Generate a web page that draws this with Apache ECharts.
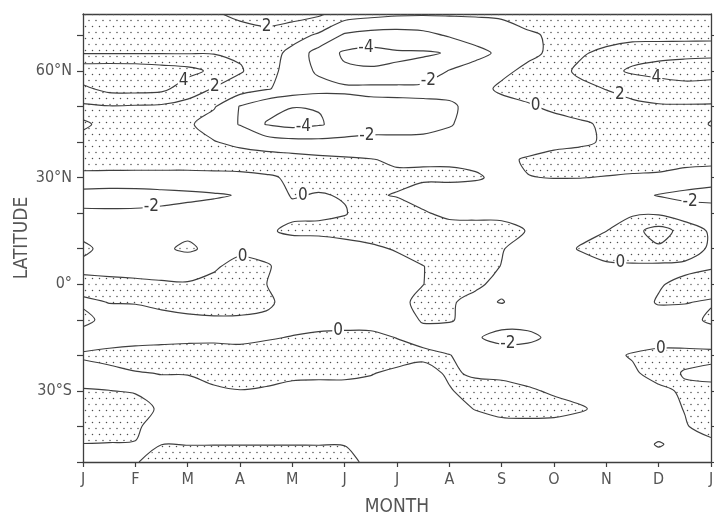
<!DOCTYPE html>
<html>
<head>
<meta charset="utf-8">
<script src="https://cdn.jsdelivr.net/npm/echarts@6/dist/echarts.min.js"></script>
<style>
  html, body { margin: 0; padding: 0; background: #fff; }
  #chart { width: 714px; height: 518px; }
</style>
</head>
<body>
<div id="chart"></div>
<script>
// ---- grid of the field: columns are half-month steps, rows are latitudes ----
const monthSteps = [0, 0.5, 1, 1.5, 2, 2.5, 3, 3.5, 4, 4.5, 5, 5.5, 6,
                    6.5, 7, 7.5, 8, 8.5, 9, 9.5, 10, 10.5, 11, 11.5, 12];
const monthTicks = ['J', 'F', 'M', 'A', 'M', 'J', 'J', 'A', 'S', 'O', 'N', 'D', 'J'];
const latitudes = [-50, -45, -40, -35, -30, -25, -20, -15, -10, -5, 0, 5, 10,
                   15, 20, 25, 30, 35, 40, 45, 50, 55, 60, 65, 70, 76];
const latTicks = [-50, -40, -30, -20, -10, 0, 10, 20, 30, 40, 50, 60, 70];
const latLabelValues = [60, 30, 0, -30];
const latLabelText = { '60': '60°N', '30': '30°N', '0': '0°', '-30': '30°S' };
const contourLevels = [-4, -2, 0, 2, 4];

// anomaly along each latitude, one value per month step
const n76 = [1.0, 1.0, 1.1, 1.2, 1.4, 1.9, 2.2, 2.7, 2.7, 2.3, 1.0, 0.6, 0.3, 0.2, 0.2, 0.2, 0.3, 0.9, 1.5, 1.4, 1.5, 1.5, 1.4, 1.3, 1.1];
const n70 = [1.3, 1.3, 1.3, 1.4, 1.5, 1.6, 1.6, 1.5, 0.8, -0.3, -2.3, -2.8, -2.9, -2.6, -1.8, -1.2, -0.9, -0.3, 0.3, 1.0, 1.3, 1.3, 1.2, 1.2, 1.2];
const n65 = [1.9, 1.9, 1.9, 1.9, 1.9, 1.9, 1.7, 1.0, -0.6, -2.8, -4.3, -4.6, -4.2, -4.2, -3.9, -2.6, -1.6, -0.6, 0.5, 1.8, 2.4, 3.2, 3.5, 3.6, 3.7];
const n60 = [5.4, 5.5, 5.4, 5.0, 4.6, 3.6, 2.2, 0.8, -0.9, -2.3, -3.7, -3.8, -3.8, -3.3, -1.9, -1.2, -0.6, 0.6, 1.4, 2.3, 3.4, 4.3, 4.6, 4.8, 4.8];
const n55 = [3.6, 4.6, 4.7, 4.5, 3.0, 1.9, 1.0, 0.2, -0.8, -1.3, -1.5, -1.5, -1.5, -1.5, -1.6, -1.0, 0.5, 0.7, 1.1, 1.6, 2.05, 2.6, 3.1, 3.4, 3.2];
const n50 = [1.7, 1.9, 1.8, 1.7, 1.3, 0.2, -2.1, -3.5, -3.95, -3.9, -3.2, -2.6, -2.5, -2.4, -2.2, -1.6, -1.0, -0.2, 0.4, 0.9, 1.3, 1.6, 1.8, 1.8, 1.8];
const n45 = [2.1, 1.8, 1.5, 1.1, 0.3, -0.9, -2.1, -4.1, -4.6, -4.2, -3.3, -2.6, -2.6, -2.5, -2.1, -1.5, -1.2, -1.0, -0.7, -0.3, 0.3, 0.9, 1.3, 1.6, 2.05];
const n40 = [1.8, 1.6, 1.4, 1.1, 0.7, 0.1, -0.5, -1.0, -1.4, -1.5, -1.5, -1.6, -1.6, -1.6, -1.5, -1.3, -1.1, -0.9, -0.5, -0.3, 0.2, 0.8, 1.2, 1.4, 1.6];
const n35 = [0.8, 0.9, 1.0, 1.0, 1.0, 1.0, 1.0, 0.9, 0.8, 0.5, 0.3, 0.1, -0.3, -0.2, -0.2, -0.3, -0.4, 0.2, 0.6, 0.8, 1.0, 1.0, 0.9, 0.8, 0.7];
const n30 = [-0.5, -0.6, -0.7, -0.7, -0.7, -0.6, -0.5, -0.2, 0.2, 0.5, 0.5, 0.4, 0.4, 0.3, 0.3, 0.15, -0.3, -0.05, 0.05, 0.05, -0.1, -0.3, -0.4, -1.0, -1.3];
const n25 = [-2.8, -2.9, -2.8, -2.6, -2.4, -2.2, -1.9, -0.8, 0.1, -0.1, 0.1, 0.2, -0.1, -0.8, -0.8, -0.7, -0.6, -0.9, -1.1, -1.2, -1.3, -1.5, -2.1, -2.4, -2.6];
const n20 = [-1.7, -1.7, -1.7, -1.6, -1.4, -1.2, -0.9, -0.6, -0.4, -0.3, -0.1, 0.8, 0.8, 0.2, -0.5, -0.6, -0.6, -0.6, -0.8, -0.7, -0.5, -0.3, -0.3, -1.2, -1.2];
const n15 = [-0.7, -1.1, -1.1, -1.0, -0.4, -0.8, -0.7, -0.3, 0.4, 0.4, 0.6, 1.0, 1.2, 1.1, 0.9, 0.9, 0.8, -0.1, -0.6, -0.4, -0.02, 1.4, 2.8, 1.3, -0.3];
const n10 = [0.5, -0.8, -0.8, -0.3, 0.3, -0.5, -0.6, -0.7, -1.2, -1.0, -0.7, -0.4, 0.2, 0.9, 1.0, 0.8, 0.1, -0.7, -0.6, 0.1, 0.8, 1.3, 1.7, 0.7, -0.2];
const n05 = [-0.6, -0.8, -1.0, -1.1, -1.2, -0.3, 0.8, 0.2, -0.8, -1.2, -1.3, -1.2, -0.8, -0.05, 0.9, 0.7, -0.05, -0.8, -1.0, -0.6, -0.3, -0.3, -0.4, -0.3, -0.1];
const eq00 = [0.7, 0.6, 0.5, 0.3, 0.2, 0.6, 0.6, 0.02, -0.7, -1.0, -1.1, -1.0, -0.6, -0.02, 0.6, 0.3, -0.5, -0.9, -1.0, -0.9, -0.7, -0.4, -0.1, 0.3, 0.5];
const s05 = [-0.3, 0.05, 0.1, 0.4, 0.6, 0.7, 0.6, 0.3, -0.6, -1.1, -1.2, -1.0, -0.4, 0.4, 0.2, -0.5, 0.1, -0.8, -1.0, -1.0, -0.8, -0.5, 0.1, 0.05, -0.1];
const s10 = [0.5, -0.6, -0.7, -0.5, -0.3, -0.2, -0.2, -0.3, -0.8, -1.0, -0.9, -0.8, -0.5, 0.1, 0.15, -0.6, -1.2, -1.2, -1.0, -0.9, -0.8, -0.7, -0.5, -0.4, 0.2];
const s15 = [-0.8, -0.9, -0.7, -0.6, -0.5, -0.4, -0.5, -0.2, 0.1, 0.5, 0.6, 0.5, -0.05, -0.4, -0.9, -1.8, -2.6, -2.5, -1.5, -1.0, -0.8, -0.6, -0.6, -0.6, -0.6];
const s20 = [0.2, 0.6, 0.8, 0.9, 1.0, 0.9, 0.8, 1.0, 1.2, 1.4, 1.4, 1.2, 0.8, 0.3, 0.05, -0.6, -1.0, -0.9, -0.8, -0.6, -0.3, 0.1, 0.4, 0.4, 0.3];
const s25 = [-0.6, -0.5, -0.1, 0.05, 0.05, 0.4, 0.7, 0.6, 0.3, 0.3, 0.3, 0.1, -0.4, -0.5, 0.2, -0.2, -0.4, -0.6, -0.7, -0.7, -0.6, -0.2, 0.5, -0.1, -0.3];
const s30 = [0.1, 0.02, -0.1, -0.5, -0.4, -0.2, -0.05, -0.2, -0.4, -0.5, -0.5, -0.6, -0.7, -0.5, -0.1, 0.5, 0.6, 0.2, -0.2, -0.5, -0.6, -0.5, -0.3, 0.2, 0.3];
const s35 = [1.0, 0.9, 0.5, -0.2, -0.5, -0.6, -0.7, -0.7, -0.7, -0.7, -0.7, -0.7, -0.7, -0.6, -0.4, 0.05, 0.5, 0.6, 0.5, 0.15, -0.4, -0.6, -0.5, 0.05, 0.5];
const s40 = [1.2, 0.5, 0.2, -0.6, -0.6, -0.6, -0.6, -0.6, -0.6, -0.6, -0.6, -0.7, -0.8, -0.8, -0.8, -0.5, -0.5, -0.5, -0.5, -0.6, -0.7, -0.7, -0.6, -0.1, 0.5];
const s45 = [-0.05, -0.05, -0.05, -0.02, -0.05, -0.05, -0.05, -0.05, -0.05, -0.05, -0.05, -0.5, -0.6, -0.6, -0.6, -0.6, -0.6, -0.6, -0.6, -0.6, -0.6, -0.5, 0.1, -0.4, -0.3];
const s50 = [-0.6, -0.5, -0.1, 0.6, 0.8, 0.9, 0.9, 0.9, 0.9, 0.8, 0.5, -0.4, -0.5, -0.5, -0.5, -0.5, -0.5, -0.5, -0.5, -0.5, -0.5, -0.5, -0.5, -0.5, -0.5];

// rows in the same order as `latitudes`
const field = [s50, s45, s40, s35, s30, s25, s20, s15, s10, s05, eq00,
               n05, n10, n15, n20, n25, n30, n35, n40, n45, n50, n55, n60, n65, n70, n76];

// where each contour carries its value: [level, month, latitude]; snapped onto the contour
const contourNotes = [
  [2, 3.53, 70.9], [4, 1.85, 59.1], [2, 2.55, 54.6],
  [-4, 5.42, 65.0], [-2, 6.59, 57.4], [-4, 4.2, 46.2], [-2, 5.42, 42.5],
  [0, 8.63, 49.5], [2, 10.27, 53.8], [4, 10.96, 58.3],
  [0, 4.2, 24.8], [-2, 1.31, 20.8], [-2, 11.6, 23.0],
  [0, 3.06, 8.2], [0, 10.27, 6.5],
  [0, 4.87, -11.5], [-2, 8.12, -17.7], [0, 11.04, -18.0]
];

// ---- styling ----
const ink = '#3f3f3f';
const textInk = '#555';
const narrow = '"Liberation Sans Narrow", "DejaVu Sans Condensed", "Arial Narrow", sans-serif';

function makeStipple() {
  const c = document.createElement('canvas');
  c.width = 7; c.height = 12;
  const ctx = c.getContext('2d');
  ctx.fillStyle = '#4d4d4d';
  [[1.5, 2.5], [5, 8.5]].forEach(([x, y]) => {
    ctx.beginPath(); ctx.arc(x, y, 0.72, 0, Math.PI * 2); ctx.fill();
  });
  return c;
}
const stipple = { image: makeStipple(), repeat: 'repeat' };

// ---- marching squares over the grid ----
function renderField(params, api) {
  const nx = monthSteps.length, ny = latitudes.length;
  const P = [];
  for (let j = 0; j < ny; j++) {
    P.push(monthSteps.map(m => api.coord([m, latitudes[j]])));
  }
  const cornerIJ = (i, j) => [[i, j], [i + 1, j], [i + 1, j + 1], [i, j + 1]];
  const edgeKey = (i, j, k) =>
    k === 0 ? 'h' + i + '_' + j :
    k === 1 ? 'v' + (i + 1) + '_' + j :
    k === 2 ? 'h' + i + '_' + (j + 1) : 'v' + i + '_' + j;

  function cellInfo(i, j, L) {
    const cs = cornerIJ(i, j);
    const pts = cs.map(([a, b]) => P[b][a]);
    const vs = cs.map(([a, b]) => field[b][a]);
    const hi = vs.map(v => v > L);
    const edgePt = k => {
      const a = k, b = (k + 1) % 4;
      const t = (L - vs[a]) / (vs[b] - vs[a]);
      return [pts[a][0] + t * (pts[b][0] - pts[a][0]), pts[a][1] + t * (pts[b][1] - pts[a][1])];
    };
    const center = (vs[0] + vs[1] + vs[2] + vs[3]) / 4 > L;
    return { pts, vs, hi, edgePt, center };
  }

  const children = [];

  // stippled area: field above zero
  for (let j = 0; j < ny - 1; j++) {
    for (let i = 0; i < nx - 1; i++) {
      const c = cellInfo(i, j, 0);
      const nHi = c.hi.filter(Boolean).length;
      if (nHi === 0) continue;
      const polys = [];
      const saddle = nHi === 2 && c.hi[0] === c.hi[2];
      if (saddle && !c.center) {
        for (let k = 0; k < 4; k++) {
          if (c.hi[k]) polys.push([c.edgePt((k + 3) % 4), c.pts[k], c.edgePt(k)]);
        }
      } else {
        const poly = [];
        for (let k = 0; k < 4; k++) {
          if (c.hi[k]) poly.push(c.pts[k]);
          if (c.hi[k] !== c.hi[(k + 1) % 4]) poly.push(c.edgePt(k));
        }
        polys.push(poly);
      }
      polys.forEach(points => children.push({
        type: 'polygon', shape: { points }, silent: true,
        style: { fill: stipple, stroke: 'none' }, z2: 1
      }));
    }
  }

  // contour lines, chained into polylines
  const linesByLevel = {};
  contourLevels.forEach(L => {
    const segs = [];
    for (let j = 0; j < ny - 1; j++) {
      for (let i = 0; i < nx - 1; i++) {
        const c = cellInfo(i, j, L);
        const cross = [];
        for (let k = 0; k < 4; k++) if (c.hi[k] !== c.hi[(k + 1) % 4]) cross.push(k);
        const add = (ka, kb) => segs.push({
          a: edgeKey(i, j, ka), b: edgeKey(i, j, kb), pa: c.edgePt(ka), pb: c.edgePt(kb)
        });
        if (cross.length === 2) add(cross[0], cross[1]);
        else if (cross.length === 4) {
          for (let k = 0; k < 4; k++) if (c.hi[k] !== c.center) add((k + 3) % 4, k);
        }
      }
    }
    const byKey = new Map();
    segs.forEach((s, idx) => [s.a, s.b].forEach(key => {
      if (!byKey.has(key)) byKey.set(key, []);
      byKey.get(key).push(idx);
    }));
    const used = new Array(segs.length).fill(false);
    const lines = [];
    for (let s0 = 0; s0 < segs.length; s0++) {
      if (used[s0]) continue;
      used[s0] = true;
      const keys = [segs[s0].a, segs[s0].b];
      const pts = [segs[s0].pa, segs[s0].pb];
      const grow = atEnd => {
        for (;;) {
          const key = atEnd ? keys[keys.length - 1] : keys[0];
          const next = (byKey.get(key) || []).find(n => !used[n]);
          if (next === undefined) return;
          used[next] = true;
          const s = segs[next];
          const nk = s.a === key ? s.b : s.a;
          const np = s.a === key ? s.pb : s.pa;
          if (atEnd) { keys.push(nk); pts.push(np); } else { keys.unshift(nk); pts.unshift(np); }
        }
      };
      grow(true); grow(false);
      const closed = keys.length > 2 && keys[0] === keys[keys.length - 1];
      if (closed) pts.pop();
      lines.push({ pts, closed });
    }
    linesByLevel[L] = lines;
    lines.forEach(ln => children.push({
      type: ln.closed ? 'polygon' : 'polyline',
      shape: { points: ln.pts, smooth: 0.3 }, silent: true,
      style: { stroke: ink, lineWidth: 1.15, fill: 'none' }, z2: 2
    }));
  });

  // level values written onto the contours
  contourNotes.forEach(([L, m, lat]) => {
    const h = api.coord([m, lat]);
    let best = null, bestD = Infinity;
    (linesByLevel[L] || []).forEach(ln => {
      const n = ln.pts.length;
      const last = ln.closed ? n : n - 1;
      for (let q = 0; q < last; q++) {
        const a = ln.pts[q], b = ln.pts[(q + 1) % n];
        const dx = b[0] - a[0], dy = b[1] - a[1];
        const len2 = dx * dx + dy * dy || 1;
        let t = ((h[0] - a[0]) * dx + (h[1] - a[1]) * dy) / len2;
        t = Math.max(0, Math.min(1, t));
        const p = [a[0] + t * dx, a[1] + t * dy];
        const d = (p[0] - h[0]) ** 2 + (p[1] - h[1]) ** 2;
        if (d < bestD) { bestD = d; best = p; }
      }
    });
    if (!best) return;
    children.push({
      type: 'text', silent: true, z2: 3,
      style: {
        text: String(L), x: best[0], y: best[1],
        align: 'center', verticalAlign: 'middle',
        textAlign: 'center', textVerticalAlign: 'middle',
        font: '17px ' + narrow, fill: '#3a3a3a',
        backgroundColor: '#fff', padding: [0, 1]
      }
    });
  });

  return { type: 'group', children };
}

const axisLineStyle = { color: ink, width: 1.3 };
const chart = echarts.init(document.getElementById('chart'), null, { renderer: 'canvas' });
chart.setOption({
  animation: false,
  backgroundColor: '#fff',
  grid: { left: 83, right: 3, top: 14, bottom: 56, outerBoundsMode: 'none', containLabel: false },
  xAxis: [{
    type: 'value', min: 0, max: 12, interval: 1, position: 'bottom',
    axisLine: { show: true, onZero: false, lineStyle: axisLineStyle },
    axisTick: { show: true, inside: false, length: 5, lineStyle: { color: ink, width: 1.2 } },
    axisLabel: {
      show: true, margin: 10, color: textInk, fontFamily: narrow, fontSize: 16,
      showMinLabel: true, showMaxLabel: true,
      formatter: v => monthTicks[Math.round(v)] || ''
    },
    splitLine: { show: false },
    name: 'MONTH', nameLocation: 'middle', nameGap: 36, nameMoveOverlap: false,
    nameTextStyle: { color: textInk, fontFamily: narrow, fontSize: 19 }
  }, {
    type: 'value', min: 0, max: 12, interval: 1, position: 'top',
    axisLine: { show: true, onZero: false, lineStyle: axisLineStyle },
    axisTick: { show: false }, axisLabel: { show: false }, splitLine: { show: false }
  }],
  yAxis: [{
    type: 'value', min: -50, max: 76, interval: 10, position: 'left',
    axisLine: { show: true, onZero: false, lineStyle: axisLineStyle },
    axisTick: { show: true, inside: false, length: 6, customValues: latTicks, lineStyle: { color: ink, width: 1.2 } },
    axisLabel: {
      show: true, margin: 11, color: textInk, fontFamily: narrow, fontSize: 16,
      customValues: latLabelValues,
      formatter: v => latLabelText[String(v)] || ''
    },
    splitLine: { show: false },
    name: 'LATITUDE', nameLocation: 'middle', nameRotate: 90, nameGap: 51, nameMoveOverlap: false,
    nameTextStyle: { color: textInk, fontFamily: narrow, fontSize: 19 }
  }, {
    type: 'value', min: -50, max: 76, interval: 10, position: 'right',
    axisLine: { show: true, onZero: false, lineStyle: axisLineStyle },
    axisTick: { show: true, inside: false, length: 4, customValues: latTicks, lineStyle: { color: ink, width: 1.1 } },
    axisLabel: { show: false }, splitLine: { show: false }
  }],
  series: [{
    type: 'custom',
    coordinateSystem: 'cartesian2d',
    xAxisIndex: 0, yAxisIndex: 0,
    clip: true,
    silent: true,
    data: [[6, 10]],
    renderItem: renderField
  }]
});
</script>
</body>
</html>
